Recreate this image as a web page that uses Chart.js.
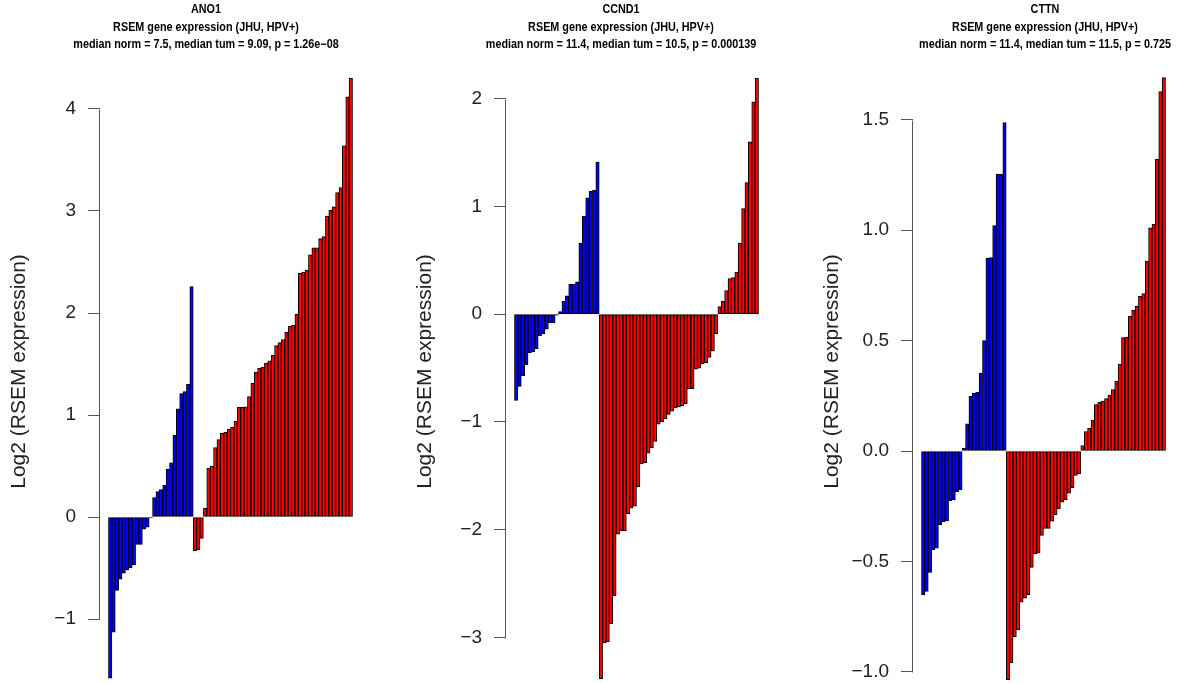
<!DOCTYPE html>
<html>
<head>
<meta charset="utf-8">
<script src="https://cdn.jsdelivr.net/npm/chart.js@4.4.0/dist/chart.umd.min.js"></script>
<style>
  html, body { margin: 0; padding: 0; background: #fff; overflow: hidden; }
  #wrap { position: relative; width: 1200px; height: 683px; overflow: hidden; background: #fff; }
  #wrap canvas { position: absolute; top: 0; }
</style>
</head>
<body>
<div id="wrap">
  <canvas id="ano1"></canvas>
  <canvas id="ccnd1"></canvas>
  <canvas id="cttn"></canvas>
</div>
<script>
// waterfall of log2 RSEM expression, each group sorted ascending
const ano1Normal = [-1.58, -1.13, -0.72, -0.61, -0.55, -0.52, -0.50, -0.47, -0.27, -0.27, -0.12, -0.10,
  -0.01, 0.19, 0.25, 0.27, 0.31, 0.47, 0.53, 0.80, 1.06, 1.21, 1.23, 1.30, 2.26];
const ano1Tumor = [-0.33, -0.32, -0.21, 0.085, 0.48, 0.50, 0.68, 0.76, 0.82, 0.83, 0.86, 0.88, 0.94,
  1.075, 1.075, 1.08, 1.18, 1.31, 1.42, 1.46, 1.47, 1.51, 1.53, 1.585, 1.68, 1.71, 1.74, 1.81, 1.87,
  1.88, 1.99, 2.39, 2.40, 2.42, 2.57, 2.64, 2.64, 2.73, 2.75, 2.95, 3.01, 3.04, 3.18, 3.23, 3.64,
  4.12, 4.30];

const ccnd1Normal = [-0.80, -0.67, -0.57, -0.47, -0.36, -0.35, -0.32, -0.20, -0.18, -0.14, -0.08, -0.08,
  -0.01, 0.025, 0.12, 0.17, 0.28, 0.28, 0.30, 0.66, 0.91, 1.08, 1.14, 1.15, 1.41];
const ccnd1Tumor = [-3.38, -3.05, -3.04, -2.87, -2.61, -2.04, -2.01, -2.01, -1.85, -1.80, -1.78, -1.60,
  -1.39, -1.38, -1.29, -1.24, -1.18, -1.02, -1.00, -0.97, -0.93, -0.90, -0.87, -0.86, -0.85, -0.83,
  -0.69, -0.69, -0.51, -0.50, -0.46, -0.45, -0.40, -0.34, -0.18, 0.07, 0.12, 0.22, 0.33, 0.34, 0.39,
  0.66, 0.98, 1.22, 1.60, 1.97, 2.19];

const cttnNormal = [-0.65, -0.636, -0.55, -0.447, -0.44, -0.333, -0.32, -0.317, -0.226, -0.22, -0.184,
  -0.176, 0.013, 0.123, 0.247, 0.262, 0.267, 0.353, 0.50, 0.873, 0.876, 1.02, 1.254, 1.254, 1.487];
const cttnTumor = [-1.035, -0.958, -0.84, -0.81, -0.684, -0.666, -0.65, -0.527, -0.466, -0.462, -0.382,
  -0.351, -0.351, -0.318, -0.288, -0.262, -0.232, -0.22, -0.191, -0.166, -0.11, -0.103, 0.024, 0.088,
  0.103, 0.14, 0.21, 0.22, 0.225, 0.237, 0.253, 0.278, 0.317, 0.394, 0.513, 0.516, 0.61, 0.638, 0.655,
  0.70, 0.713, 0.86, 1.01, 1.026, 1.32, 1.627, 1.69];

const ano1Ticks = [-1, 0, 1, 2, 3, 4];
const ccnd1Ticks = [-3, -2, -1, 0, 1, 2];
const cttnTicks = [-1, -0.5, 0, 0.5, 1, 1.5];

const genes = ['ANO1', 'CCND1', 'CTTN'];
const medianNorm = ['7.5', '11.4', '11.4'];
const medianTum = ['9.09', '10.5', '11.5'];
const pValues = ['1.26e\u221208', '0.000139', '0.725'];

const FONT = "'Liberation Sans', Arial, sans-serif";
const AXIS_W = 100;     // room left of the y axis line
const PLOT_W = 261.8;   // chart area width
const TOP = 60;         // chart area top
const H = 683;

// R style axis line, only between first and last tick
const axisLine = {
    id: 'axisLine',
    afterDraw(chart) {
        const ys = chart.scales.y;
        const t = ys.ticks;
        const ctx = chart.ctx;
        const x = Math.round(chart.chartArea.left) - 0.5;
        ctx.save();
        ctx.strokeStyle = '#555';
        ctx.lineWidth = 1;
        ctx.beginPath();
        ctx.moveTo(x, Math.round(ys.getPixelForValue(t[0].value)) + 0.5);
        ctx.lineTo(x, Math.round(ys.getPixelForValue(t[t.length - 1].value)) + 0.5);
        ctx.stroke();
        ctx.restore();
    }
};

// three line bold heading, centred on a given x, slightly condensed
const panelTitle = {
    id: 'panelTitle',
    afterDraw(chart, args, opts) {
        const ctx = chart.ctx;
        const sx = 0.9;
        ctx.save();
        ctx.scale(sx, 1);
        ctx.fillStyle = '#000';
        ctx.font = 'bold 12px ' + FONT;
        ctx.textAlign = 'center';
        ctx.textBaseline = 'middle';
        opts.lines.forEach((line, i) => ctx.fillText(line, opts.x / sx, 10 + i * 17.5));
        ctx.restore();
    }
};

function fmt(v, digits) {
    return v.toFixed(digits).replace('-', '\u2212');
}

function makePanel(id, k, normal, tumor, ticks, digits, yMin, yMax, left, titleX) {
    const canvas = document.getElementById(id);
    const w = AXIS_W + PLOT_W + 30;
    canvas.width = w;
    canvas.height = H;
    canvas.style.left = left + 'px';

    return new Chart(canvas, {
        type: 'bar',
        data: {
            datasets: [
                {label: 'normal', data: normal.map((v, i) => ({x: i, y: v})), backgroundColor: '#0000ff'},
                {label: 'tumor', data: tumor.map((v, i) => ({x: normal.length + i, y: v})), backgroundColor: '#ff0000'},
            ],
        },
        options: {
            responsive: false,
            animation: false,
            devicePixelRatio: 1,
            layout: {padding: {left: 0, right: w - AXIS_W - PLOT_W, top: TOP, bottom: 0}},
            datasets: {
                bar: {
                    grouped: false,
                    barPercentage: 1,
                    categoryPercentage: 1,
                    borderColor: '#000',
                    borderWidth: 1,
                    borderSkipped: false,
                },
            },
            scales: {
                x: {
                    type: 'linear',
                    display: false,
                    offset: false,
                    min: -3,
                    max: normal.length + tumor.length + 2,
                },
                y: {
                    min: yMin,
                    max: yMax,
                    afterFit: (s) => {
                        s.width = AXIS_W;
                        s.paddingTop = 0;
                        s.paddingBottom = 0;
                    },
                    afterBuildTicks: (s) => { s.ticks = ticks.map((v) => ({value: v})); },
                    ticks: {
                        callback: (v) => fmt(v, digits),
                        font: {family: FONT, size: 19},
                        color: '#222',
                        padding: 12,
                    },
                    grid: {drawOnChartArea: false, drawTicks: true, tickLength: 12, color: '#555', lineWidth: 1},
                    border: {display: false},
                    title: {
                        display: true,
                        text: 'Log2 (RSEM expression)',
                        font: {family: FONT, size: 21},
                        color: '#222',
                        padding: {top: 7, bottom: 0},
                    },
                },
            },
            plugins: {
                legend: {display: false},
                tooltip: {enabled: false},
                title: {display: false},
                panelTitle: {
                    x: titleX - left,
                    lines: [
                        genes[k],
                        'RSEM gene expression (JHU, HPV+)',
                        'median norm = ' + medianNorm[k] + ', median tum = ' + medianTum[k] + ', p = ' + pValues[k],
                    ],
                },
            },
        },
        plugins: [axisLine, panelTitle],
    });
}

makePanel('ano1', 0, ano1Normal, ano1Tumor, ano1Ticks, 0, (517 - H) / 102, (517 - TOP) / 102, 0, 206);
makePanel('ccnd1', 1, ccnd1Normal, ccnd1Tumor, ccnd1Ticks, 0, (314.2 - H) / 107.8, (314.2 - TOP) / 107.8, 406, 621);
makePanel('cttn', 2, cttnNormal, cttnTumor, cttnTicks, 1, (451 - H) / 220.9, (451 - TOP) / 220.9, 813, 1045);
</script>
</body>
</html>
